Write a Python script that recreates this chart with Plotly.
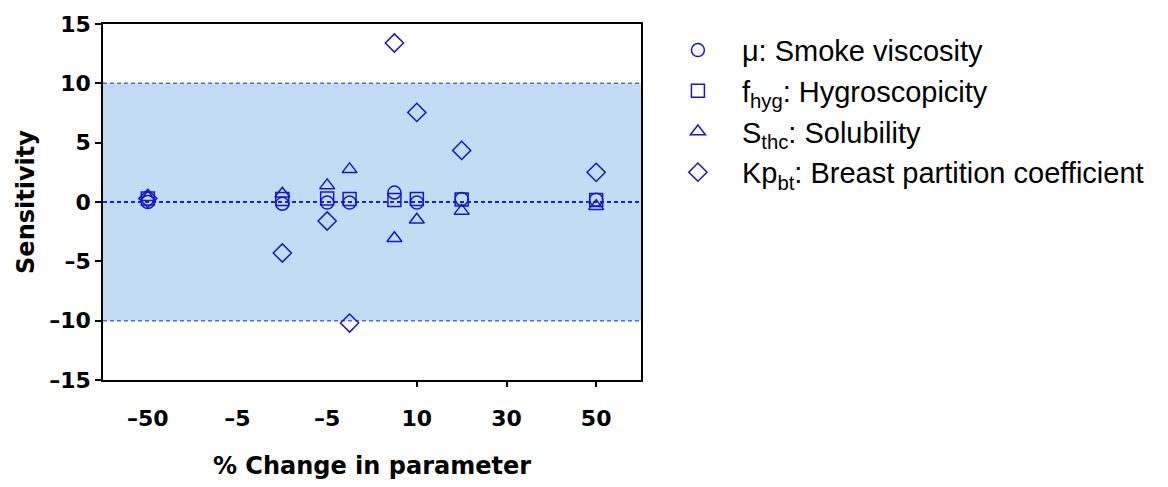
import plotly.graph_objects as go

# x categories (% change) and their slot positions along the axis
tick_labels = ["–50", "–5", "–5", "10", "30", "50"]
tick_slots = [0, 1, 2, 3, 4, 5]
point_slots = [0, 1.5, 2, 2.25, 2.75, 3, 3.5, 5]

mu_visc = [0.0, -0.15, -0.05, -0.05, 0.8, -0.05, 0.25, 0.2]
f_hyg = [0.3, 0.25, 0.3, 0.25, 0.17, 0.25, 0.22, 0.17]
s_thc = [0.4, 0.7, 1.4, 2.75, -3.05, -1.5, -0.75, -0.35]
kp_bt = [0.3, -4.3, -1.6, -10.2, 13.4, 7.55, 4.35, 2.5]

y_ticks = [15, 10, 5, 0, -5, -10, -15]
y_ticktext = ["15", "10", "5", "0", "–5", "–10", "–15"]

names = ["μ: Smoke viscosity", "f<sub>hyg</sub>: Hygroscopicity",
         "S<sub>thc</sub>: Solubility", "Kp<sub>bt</sub>: Breast partition coefficient"]
series = [mu_visc, f_hyg, s_thc, kp_bt]
symbols = ["circle-open", "square-open", "triangle-up-open", "diamond-open"]
sizes = [13, 13, 13, 14]

BLUE = "#1616d2"
fig = go.Figure()
for i, (nm, ys, sym, sz) in enumerate(zip(names, series, symbols, sizes)):
    fig.add_trace(go.Scatter(
        x=point_slots, y=ys, mode="markers", name=nm, legendgroup=str(i),
        marker=dict(symbol=sym, size=sz, color=BLUE, line=dict(color=BLUE, width=1.5)),
    ))

# invisible trace to carry the secondary x-axis (tick marks only at 10, 30, 50)
fig.add_trace(go.Scatter(x=[tick_slots[3]], y=[0], xaxis="x2", mode="markers",
                         marker=dict(opacity=0), showlegend=False, hoverinfo="skip"))

fig.add_shape(type="rect", xref="paper", yref="y", x0=0, x1=1, y0=-10, y1=10,
              fillcolor="#c2ddf3", line=dict(width=0), layer="below")
for yv, col, w in [(10, "#5566ee", 1.5), (-10, "#5566ee", 1.5), (0, "#2020d0", 2)]:
    fig.add_shape(type="line", xref="paper", yref="y", x0=0, x1=1, y0=yv, y1=yv,
                  line=dict(color=col, width=w, dash="4px,3px"), layer="below")

FONT = "Liberation Sans, Arial, sans-serif"
BFONT = "DejaVu Sans, sans-serif"
fig.update_layout(
    width=1168, height=487,
    margin=dict(l=103, r=527, t=23, b=105),
    paper_bgcolor="white", plot_bgcolor="white",
    showlegend=True,
    legend=dict(x=1.024, y=0.998, xanchor="left", yanchor="top",
                font=dict(family=FONT, size=29, color="black"),
                itemwidth=78,
                tracegroupgap=0, traceorder="grouped",
                bgcolor="rgba(0,0,0,0)"),
    xaxis=dict(range=[-0.5, 5.5], tickvals=tick_slots, ticktext=tick_labels,
               ticks="", showline=True, linecolor="black", linewidth=1.5, mirror=True,
               showgrid=False, zeroline=False,
               tickfont=dict(family=BFONT, size=22, color="black", weight="bold"),
               ticklabelstandoff=18,
               title=dict(text="<b>% Change in parameter</b>", standoff=27,
                          font=dict(family=BFONT, size=24, color="black"))),
    xaxis2=dict(range=[-0.5, 5.5], overlaying="x", side="bottom", anchor="y",
                tickvals=tick_slots[3:], showticklabels=False, ticks="outside",
                ticklen=6, tickwidth=1.5, tickcolor="black", showgrid=False,
                zeroline=False, showline=False),
    yaxis=dict(range=[-15, 15], tickvals=y_ticks, ticktext=y_ticktext,
               ticks="outside", ticklen=6, tickwidth=1.5, tickcolor="black",
               showline=True, linecolor="black", linewidth=1.5, mirror=True,
               showgrid=False, zeroline=False,
               tickfont=dict(family=BFONT, size=22, color="black", weight="bold"),
               title=dict(text="<b>Sensitivity</b>", standoff=8,
                          font=dict(family=BFONT, size=24, color="black"))),
)

fig.write_html("out.html")
